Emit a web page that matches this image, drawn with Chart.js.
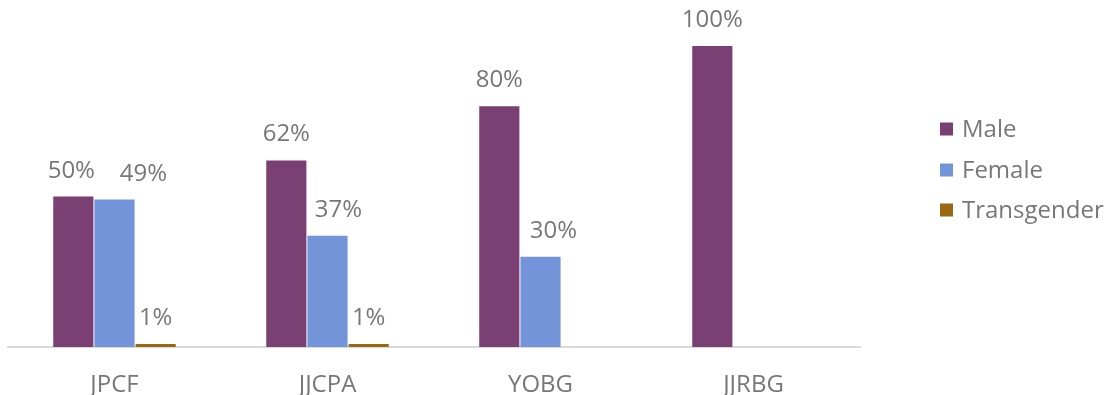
<!DOCTYPE html>
<html>
<head>
<meta charset="utf-8">
<script src="https://cdn.jsdelivr.net/npm/chart.js@4/dist/chart.umd.min.js"></script>
<style>
  html, body { margin: 0; padding: 0; background: #fff; }
  #wrap { width: 1107px; height: 395px; position: relative; }
</style>
</head>
<body>
<div id="wrap"><canvas id="c"></canvas></div>
<script>
// Share of respondents by gender, per group
const categories = ['JPCF', 'JJCPA', 'YOBG', 'JJRBG'];
const male = [50, 62, 80, 100];
const female = [49, 37, 30, null];
const transgender = [1, 1, null, null];
const seriesNames = ['Male', 'Female', 'Transgender'];
const seriesColors = ['#7A3F73', '#7494DA', '#9A6712'];

const FONT = '"Open Sans", "Liberation Sans", sans-serif';
const TEXT = '#777777';
const FONT_SIZE = 24;

// Percent labels above each bar; some labels are nudged sideways so they clear their neighbours
const valueLabels = {
  id: 'valueLabels',
  afterDatasetsDraw(chart, args, opts) {
    const ctx = chart.ctx;
    const nudges = opts.nudge || {};
    ctx.save();
    ctx.font = FONT_SIZE + 'px ' + FONT;
    ctx.fillStyle = TEXT;
    ctx.textAlign = 'center';
    ctx.textBaseline = 'alphabetic';
    chart.data.datasets.forEach((ds, i) => {
      const meta = chart.getDatasetMeta(i);
      const shift = nudges[i] || [];
      meta.data.forEach((el, j) => {
        const v = ds.data[j];
        if (v == null) return;
        ctx.fillText(v + '%', el.x + (shift[j] || 0), el.y - 19);
      });
    });
    ctx.restore();
  }
};

// Legend column on the right with square swatches
const sideLegend = {
  id: 'sideLegend',
  afterDraw(chart) {
    const ctx = chart.ctx;
    const x = chart.chartArea.right + 80;
    const rows = [129, 170, 210];
    ctx.save();
    ctx.font = FONT_SIZE + 'px ' + FONT;
    ctx.textBaseline = 'middle';
    ctx.textAlign = 'left';
    chart.data.datasets.forEach((ds, i) => {
      const y = rows[i];
      ctx.fillStyle = ds.backgroundColor;
      ctx.fillRect(x, y - 6.5, 13, 13);
      ctx.fillStyle = TEXT;
      ctx.fillText(ds.label, x + 22, y + 1);
    });
    ctx.restore();
  }
};

new Chart(document.getElementById('c'), {
  type: 'bar',
  data: {
    labels: categories,
    datasets: [
      { label: seriesNames[0], data: male, backgroundColor: seriesColors[0] },
      { label: seriesNames[1], data: female, backgroundColor: seriesColors[1] },
      { label: seriesNames[2], data: transgender, backgroundColor: seriesColors[2] }
    ]
  },
  options: {
    responsive: true,
    maintainAspectRatio: false,
    animation: false,
    datasets: {
      bar: { categoryPercentage: 0.58, barPercentage: 0.975, borderWidth: 0 }
    },
    layout: { padding: { left: 8, right: 247, top: 46, bottom: 0 } },
    plugins: {
      legend: { display: false },
      tooltip: { enabled: false },
      valueLabels: { nudge: { 0: [-2, 0, 0, 0], 1: [29, 11, 13, 0] } }
    },
    scales: {
      x: {
        grid: { display: false, drawTicks: false },
        border: { display: true, color: '#D9D9D9', width: 2 },
        ticks: { color: TEXT, font: { family: FONT, size: FONT_SIZE }, padding: 24 },
        afterFit(scale) { scale.height = 48; }
      },
      y: {
        display: false,
        min: 0,
        max: 100
      }
    }
  },
  plugins: [valueLabels, sideLegend]
});
</script>
</body>
</html>
